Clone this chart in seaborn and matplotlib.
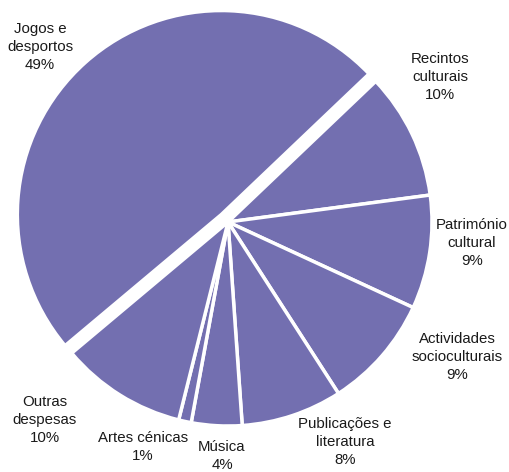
import matplotlib
matplotlib.use("Agg")
import matplotlib.pyplot as plt
import seaborn as sns

# spending shares (%)
categories = ["Jogos e\ndesportos", "Recintos\nculturais", "Património\ncultural",
              "Actividades\nsocioculturais", "Publicações e\nliteratura", "Música",
              "Artes cénicas", "Outras\ndespesas"]
shares = [49, 10, 9, 9, 8, 4, 1, 10]

# label centres in pixel coords (x from left, y from top)
label_pos = [(40, 47), (440, 77), (472, 243), (457, 357),
             (345, 442), (222, 456), (143, 447), (45, 420)]

sns.set_theme(style="white")
plt.rcParams["font.family"] = ["Liberation Sans", "DejaVu Sans"]

W, H = 510, 472
fig = plt.figure(figsize=(W / 100, H / 100), dpi=100)
ax = fig.add_axes([0, 0, 1, 1])

# matplotlib's explode is in data units here (pixels)
explode = [10] + [0] * (len(shares) - 1)
ax.pie(shares, explode=explode, startangle=220, counterclock=False,
       colors=["#736fb0"] * len(shares), center=(228, H - 222), radius=204,
       wedgeprops=dict(edgecolor="white", linewidth=2.5), frame=True)
ax.set_xlim(0, W)
ax.set_ylim(0, H)
ax.set_aspect("equal")
ax.axis("off")

for name, val, (x, y) in zip(categories, shares, label_pos):
    ax.text(x, H - y, f"{name}\n{val}%", ha="center", va="center",
            fontsize=10.8, color="#1a1a1a", linespacing=1.35)

fig.savefig("out.png", dpi=100)
